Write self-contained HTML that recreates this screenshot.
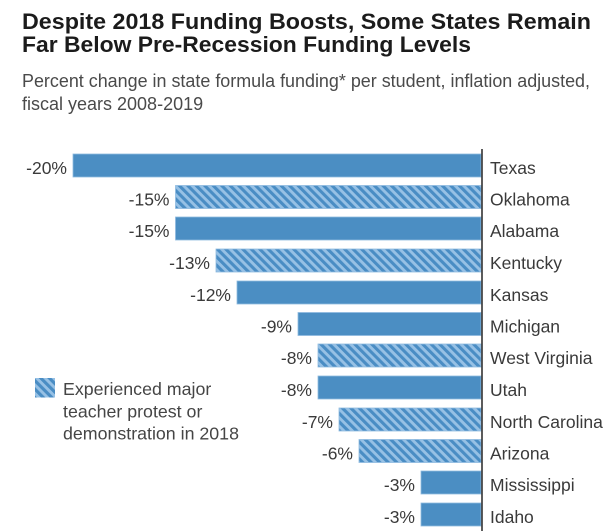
<!DOCTYPE html>
<html>
<head>
<meta charset="utf-8">
<style>
  html,body{margin:0;padding:0;background:#fff;}
  svg{display:block;}
  text{font-family:"Liberation Sans",Arial,sans-serif;}
</style>
</head>
<body>
<svg width="615" height="531" viewBox="0 0 615 531" xmlns="http://www.w3.org/2000/svg">
  <defs>
    <pattern id="hatch" patternUnits="userSpaceOnUse" width="6" height="6" patternTransform="rotate(-45)">
      <rect x="0" y="0" width="6" height="6" fill="#97c1e5"/>
      <rect x="0" y="0" width="3.1" height="6" fill="#4a8dc4"/>
    </pattern>
  </defs>
  <rect width="615" height="531" fill="#fff"/>

  <!-- Title -->
  <text x="22" y="29" font-size="22" font-weight="bold" fill="#1b1b1b" textLength="569" lengthAdjust="spacingAndGlyphs">Despite 2018 Funding Boosts, Some States Remain</text>
  <text x="22" y="52" font-size="22" font-weight="bold" fill="#1b1b1b" textLength="449" lengthAdjust="spacingAndGlyphs">Far Below Pre-Recession Funding Levels</text>

  <!-- Subtitle -->
  <text x="22" y="87" font-size="18" fill="#4a4a4a" textLength="568" lengthAdjust="spacingAndGlyphs">Percent change in state formula funding* per student, inflation adjusted,</text>
  <text x="22" y="110" font-size="18" fill="#4a4a4a">fiscal years 2008-2019</text>

  <!-- Bars -->
  <g stroke="#8fbbe0" stroke-width="0.8">
    <rect x="73" y="154" width="408" height="23" fill="#4b8ec3"/>
    <rect x="175.5" y="185.5" width="305.5" height="23" fill="url(#hatch)"/>
    <rect x="175.5" y="217" width="305.5" height="23" fill="#4b8ec3"/>
    <rect x="216" y="249" width="265" height="23" fill="url(#hatch)"/>
    <rect x="237" y="281" width="244" height="23" fill="#4b8ec3"/>
    <rect x="298" y="312.5" width="183" height="23" fill="#4b8ec3"/>
    <rect x="318" y="344" width="163" height="23" fill="url(#hatch)"/>
    <rect x="318" y="376" width="163" height="23" fill="#4b8ec3"/>
    <rect x="339" y="408" width="142" height="23" fill="url(#hatch)"/>
    <rect x="359" y="439.5" width="122" height="23" fill="url(#hatch)"/>
    <rect x="421" y="471" width="60" height="23" fill="#4b8ec3"/>
    <rect x="421" y="503" width="60" height="23" fill="#4b8ec3"/>
  </g>

  <!-- Axis -->
  <line x1="482" y1="149" x2="482" y2="531" stroke="#333" stroke-width="1.6"/>

  <!-- Value labels -->
  <g font-size="17.5" fill="#3a3a3a" text-anchor="end">
    <text x="67" y="174">-20%</text>
    <text x="169.5" y="205.5">-15%</text>
    <text x="169.5" y="237">-15%</text>
    <text x="210" y="269">-13%</text>
    <text x="231" y="301">-12%</text>
    <text x="292" y="332.5">-9%</text>
    <text x="312" y="364">-8%</text>
    <text x="312" y="396">-8%</text>
    <text x="333" y="428">-7%</text>
    <text x="353" y="459.5">-6%</text>
    <text x="415" y="491">-3%</text>
    <text x="415" y="523">-3%</text>
  </g>

  <!-- State labels -->
  <g font-size="17.5" fill="#3a3a3a">
    <text x="490" y="174">Texas</text>
    <text x="490" y="205.5">Oklahoma</text>
    <text x="490" y="237">Alabama</text>
    <text x="490" y="269">Kentucky</text>
    <text x="490" y="301">Kansas</text>
    <text x="490" y="332.5">Michigan</text>
    <text x="490" y="364">West Virginia</text>
    <text x="490" y="396">Utah</text>
    <text x="490" y="428">North Carolina</text>
    <text x="490" y="459.5">Arizona</text>
    <text x="490" y="491">Mississippi</text>
    <text x="490" y="523">Idaho</text>
  </g>

  <!-- Legend -->
  <rect x="35" y="378" width="20" height="19.5" fill="url(#hatch)"/>
  <g font-size="17.8" fill="#454545">
    <text x="63" y="395">Experienced major</text>
    <text x="63" y="417.5">teacher protest or</text>
    <text x="63" y="439.5">demonstration in 2018</text>
  </g>
</svg>
</body>
</html>
